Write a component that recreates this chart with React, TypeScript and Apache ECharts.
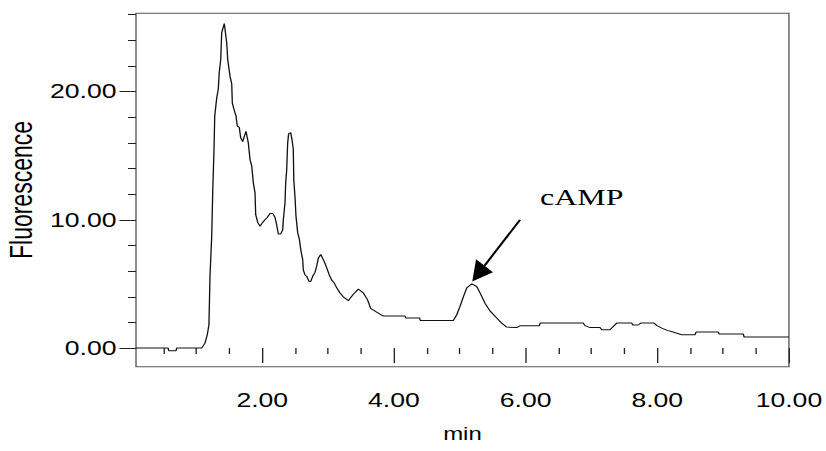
import React, { useEffect, useRef } from 'react';
import * as echarts from 'echarts';

// Horizontal stretch of the reference picture (its text is wider than it is tall)
const STRETCH = 1.33;
const VIEW_W = 826;
const VIEW_H = 451;

// Chromatogram: retention time (min) and fluorescence
const times = [
  0.08, 0.57, 0.58, 0.69, 0.70, 1.08, 1.13, 1.165, 1.19, 1.206, 1.232, 1.247, 1.267, 1.278,
  1.308, 1.332, 1.347, 1.369, 1.384, 1.423, 1.46, 1.475, 1.51, 1.536, 1.545, 1.571, 1.601,
  1.621, 1.651, 1.672, 1.703, 1.727, 1.753, 1.788, 1.814, 1.84, 1.864, 1.89, 1.90, 1.931,
  1.966, 2.007, 2.041, 2.077, 2.118, 2.159, 2.193, 2.219, 2.244, 2.28, 2.31, 2.32, 2.345,
  2.356, 2.371, 2.386, 2.40, 2.432, 2.456, 2.471, 2.479, 2.497, 2.512, 2.538, 2.563, 2.584,
  2.614, 2.623, 2.649, 2.675, 2.71, 2.736, 2.766, 2.801, 2.827, 2.851, 2.888, 2.918, 2.953,
  2.979, 3.018, 3.055, 3.09, 3.131, 3.181, 3.231, 3.283, 3.307, 3.383, 3.459, 3.535, 3.596,
  3.647, 3.738, 3.839, 4.168, 4.18, 4.39, 4.40, 4.902, 4.954, 5.004, 5.054, 5.106, 5.182,
  5.257, 5.308, 5.383, 5.459, 5.561, 5.637, 5.713, 5.865, 5.915, 6.21, 6.22, 6.877, 6.9,
  6.98, 7.13, 7.156, 7.282, 7.384, 7.612, 7.63, 7.71, 7.749, 7.95, 7.996, 8.07, 8.15, 8.24,
  8.37, 8.573, 8.59, 8.927, 8.94, 9.307, 9.32, 10.0,
];
const fluorescence = [
  0, 0, -0.2, -0.2, 0, 0, 0.39, 1.04, 1.82, 5.6, 8.7, 12.1, 15.5, 18.1,
  19.5, 20.2, 21.5, 22.5, 24.6, 25.3, 23.8, 22.5, 21.2, 20.6, 19.1, 18.6, 18.1,
  17.3, 17.2, 16.4, 16.1, 16.5, 16.9, 16.0, 14.7, 14.2, 12.9, 12.1, 10.4, 9.8,
  9.5, 9.8, 10.0, 10.2, 10.5, 10.5, 10.2, 9.6, 8.9, 8.9, 9.2, 10.0, 11.3,
  12.9, 13.9, 16.0, 16.7, 16.8, 16.1, 15.5, 13.1, 11.8, 10.3, 9.0, 8.5, 7.7,
  6.9, 6.1, 5.7, 5.6, 5.2, 5.2, 5.6, 5.9, 6.4, 7.0, 7.3, 7.0, 6.6,
  6.25, 5.7, 5.3, 5.1, 4.7, 4.3, 4.0, 3.8, 3.7, 4.2, 4.6, 4.3, 3.8,
  3.1, 2.8, 2.5, 2.5, 2.35, 2.35, 2.15, 2.15, 2.6, 3.25, 4.0, 4.7, 5.0,
  4.8, 4.3, 3.5, 2.9, 2.35, 1.95, 1.64, 1.6, 1.74, 1.74, 1.95, 1.95, 1.75,
  1.6, 1.6, 1.43, 1.43, 1.95, 1.95, 1.8, 1.8, 1.95, 1.95, 1.75, 1.56, 1.38, 1.25,
  1.04, 1.04, 1.25, 1.25, 1.1, 1.1, 0.86, 0.86,
];

// Axis ticks
const xMajorTicks = [2, 4, 6, 8, 10];
const xMinorTicks = [0.5, 1, 1.5, 2.5, 3, 3.5, 4.5, 5, 5.5, 6.5, 7, 7.5, 8.5, 9, 9.5];
const yMajorTicks = [0, 10, 20];
const yMinorTicks = [2, 4, 6, 8, 12, 14, 16, 18, 22, 24, 26];
const X_MIN = 0.082;
const X_MAX = 10;
const Y_MIN = -1.45;
const Y_MAX = 26.1;

// Annotation (data coordinates)
const peakName = 'cAMP';
const arrowTip = [5.19, 5.19];
const arrowTail = [5.915, 10.0];
const peakLabelAnchor = [6.22, 11.8];

const SANS = '"Liberation Sans", Arial, sans-serif';
const SERIF = '"Liberation Serif", "Times New Roman", serif';

export default function App() {
  const ref = useRef<HTMLDivElement>(null);

  useEffect(() => {
    if (!ref.current) return;
    const chart = echarts.init(ref.current, null, { renderer: 'svg' });
    const fmt = (v: number) => v.toFixed(2);
    const tickColor = '#222';

    chart.setOption({
      animation: false,
      backgroundColor: '#fff',
      grid: {
        left: 136 / STRETCH,
        right: (VIEW_W - 789) / STRETCH,
        top: 13.3,
        bottom: VIEW_H - 366.7,
        containLabel: false,
        outerBoundsMode: 'none',
        show: true,
        borderColor: '#555',
        borderWidth: 1,
        backgroundColor: 'transparent',
      },
      xAxis: [
        {
          type: 'value',
          position: 'bottom',
          min: X_MIN,
          max: X_MAX,
          offset: 3,
          axisLine: { show: false },
          splitLine: { show: false },
          axisTick: {
            show: true,
            customValues: xMajorTicks,
            length: 15,
            lineStyle: { color: tickColor, width: 1 },
          },
          axisLabel: {
            customValues: xMajorTicks,
            formatter: fmt,
            fontSize: 20,
            fontFamily: SANS,
            color: '#000',
            margin: 20,
          },
          name: 'min',
          nameLocation: 'middle',
          nameGap: 55,
          nameMoveOverlap: false,
          nameTextStyle: { fontSize: 18, fontFamily: SANS, color: '#000' },
        },
        {
          type: 'value',
          position: 'bottom',
          min: X_MIN,
          max: X_MAX,
          offset: 3,
          axisLine: { show: false },
          splitLine: { show: false },
          axisTick: {
            show: true,
            customValues: xMinorTicks,
            length: 6,
            lineStyle: { color: tickColor, width: 1 },
          },
          axisLabel: { show: false },
        },
      ],
      yAxis: [
        {
          type: 'value',
          position: 'left',
          min: Y_MIN,
          max: Y_MAX,
          axisLine: { show: false },
          splitLine: { show: false },
          axisTick: {
            show: true,
            customValues: yMajorTicks,
            length: 16.5 / STRETCH,
            lineStyle: { color: tickColor, width: 1 },
          },
          axisLabel: {
            customValues: yMajorTicks,
            formatter: fmt,
            fontSize: 20,
            fontFamily: SANS,
            color: '#000',
            margin: 19.5 / STRETCH,
          },
          name: 'Fluorescence',
          nameLocation: 'middle',
          nameRotate: 90,
          nameGap: 74.5,
          nameMoveOverlap: false,
          nameTextStyle: { fontSize: 23, fontFamily: SANS, color: '#000' },
        },
        {
          type: 'value',
          position: 'left',
          min: Y_MIN,
          max: Y_MAX,
          axisLine: { show: false },
          splitLine: { show: false },
          axisTick: {
            show: true,
            customValues: yMinorTicks,
            length: 8 / STRETCH,
            lineStyle: { color: tickColor, width: 1 },
          },
          axisLabel: { show: false },
        },
      ],
      series: [
        {
          type: 'line',
          xAxisIndex: 0,
          yAxisIndex: 0,
          data: times.map((t, i) => [t, fluorescence[i]]),
          showSymbol: false,
          symbol: 'none',
          silent: true,
          lineStyle: { color: '#111', width: 1 },
        },
      ],
    });

    // Arrow and label, placed through the axes' scales
    const toScreen = (p: number[]) => {
      const q = chart.convertToPixel({ gridIndex: 0 }, p) as number[];
      return [q[0] * STRETCH, q[1]];
    };
    const toInner = (p: number[]) => [p[0] / STRETCH, p[1]];
    const tip = toScreen(arrowTip);
    const tail = toScreen(arrowTail);
    const dx = tail[0] - tip[0];
    const dy = tail[1] - tip[1];
    const len = Math.hypot(dx, dy);
    const ux = dx / len;
    const uy = dy / len;
    const headLen = 20;
    const headHalf = 10.7;
    const base = [tip[0] + ux * headLen, tip[1] + uy * headLen];
    const c1 = [base[0] - uy * headHalf, base[1] + ux * headHalf];
    const c2 = [base[0] + uy * headHalf, base[1] - ux * headHalf];
    const bIn = toInner(base);
    const tIn = toInner(tail);
    const labelPx = chart.convertToPixel({ gridIndex: 0 }, peakLabelAnchor) as number[];

    chart.setOption({
      graphic: [
        {
          type: 'line',
          silent: true,
          shape: { x1: bIn[0], y1: bIn[1], x2: tIn[0], y2: tIn[1] },
          style: { stroke: '#000', lineWidth: 1.7 },
        },
        {
          type: 'polygon',
          silent: true,
          shape: { points: [tip, c1, c2].map(toInner) },
          style: { fill: '#000' },
        },
        {
          type: 'text',
          silent: true,
          x: labelPx[0],
          y: labelPx[1],
          style: {
            text: peakName,
            font: `24px ${SERIF}`,
            fill: '#000',
            align: 'left',
            verticalAlign: 'middle',
          },
        },
      ],
    });

    return () => chart.dispose();
  }, []);

  return (
    <div
      style={{
        position: 'fixed',
        left: 0,
        top: 0,
        width: VIEW_W,
        height: VIEW_H,
        background: '#fff',
        overflow: 'hidden',
      }}
    >
      <div
        ref={ref}
        style={{
          width: VIEW_W / STRETCH,
          height: VIEW_H,
          transform: `scaleX(${STRETCH})`,
          transformOrigin: '0 0',
        }}
      />
    </div>
  );
}
